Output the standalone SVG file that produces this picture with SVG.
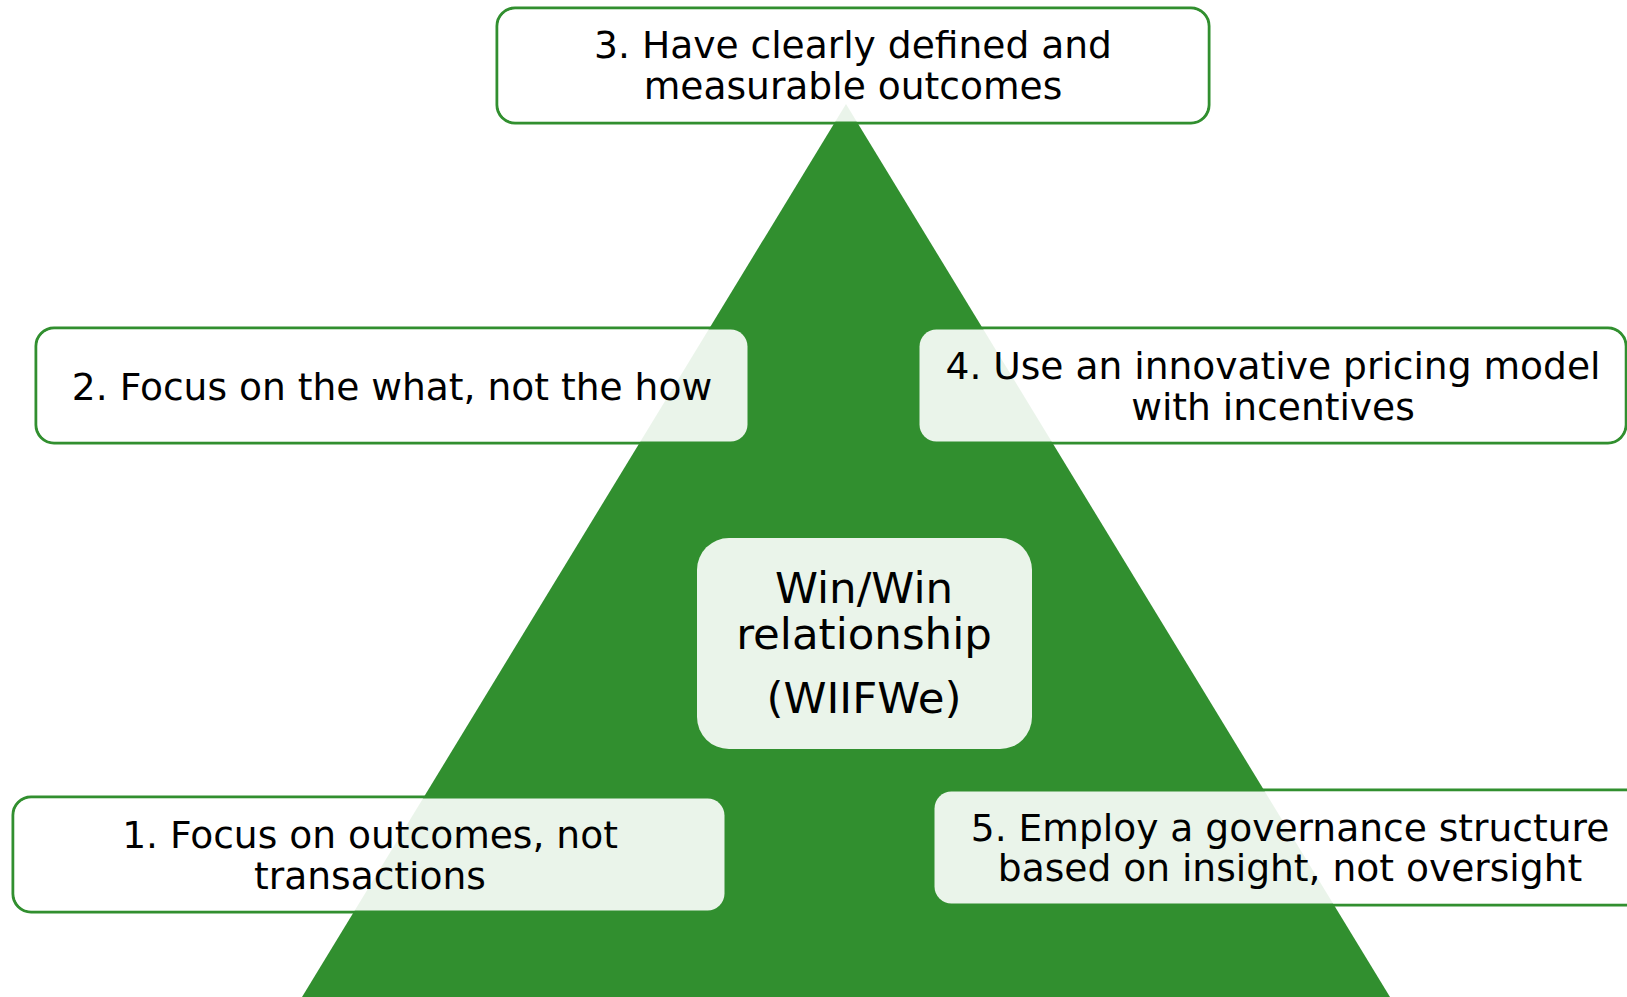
<svg xmlns="http://www.w3.org/2000/svg" width="1627" height="997" viewBox="0 0 1627 997">
<style>
.box{fill:#ffffff;stroke:#318f2f;stroke-width:3}
.veil{fill:#ffffff;fill-opacity:0.9;stroke:none}
.t{font-family:"DejaVu Sans","Liberation Sans",sans-serif;font-size:37.6px;fill:#000;text-anchor:middle}
.c{font-family:"DejaVu Sans","Liberation Sans",sans-serif;font-size:43.5px;fill:#000;text-anchor:middle}
</style>
<rect width="1627" height="997" fill="#ffffff"/>
<g id="frames">
<rect class="box" x="497" y="8" width="712" height="115" rx="18"/>
<rect class="box" x="36" y="328" width="713" height="115" rx="18"/>
<rect class="box" x="918" y="328" width="708" height="115" rx="18"/>
<rect class="box" x="13" y="797" width="713" height="115" rx="18"/>
<rect class="box" x="933" y="790" width="720" height="115" rx="18"/>
</g>
<g id="pyramid">
<polygon points="846,104 1390,997 302,997" fill="#318f2f"/>
</g>
<g id="node3">
<rect class="veil" x="498.5" y="9.5" width="709" height="112" rx="17"/>
<text class="t" x="853" y="58">3. Have clearly defined and</text>
<text class="t" x="853" y="98.5">measurable outcomes</text>
</g>
<g id="node2">
<rect class="veil" x="37.5" y="329.5" width="710" height="112" rx="17"/>
<text class="t" x="392" y="399.5">2. Focus on the what, not the how</text>
</g>
<g id="node4">
<rect class="veil" x="919.5" y="329.5" width="705" height="112" rx="17"/>
<text class="t" x="1273" y="379">4. Use an innovative pricing model</text>
<text class="t" x="1273" y="419.5">with incentives</text>
</g>
<g id="node1">
<rect class="veil" x="14.5" y="798.5" width="710" height="112" rx="17"/>
<text class="t" x="370" y="848">1. Focus on outcomes, not</text>
<text class="t" x="370" y="888.5">transactions</text>
</g>
<g id="node5">
<rect class="veil" x="934.5" y="791.5" width="717" height="112" rx="17"/>
<text class="t" x="1290" y="840.5">5. Employ a governance structure</text>
<text class="t" x="1290" y="881">based on insight, not oversight</text>
</g>
<g id="center">
<rect class="veil" x="697" y="538" width="335" height="211" rx="32"/>
<text class="c" x="864" y="603">Win/Win</text>
<text class="c" x="864" y="649">relationship</text>
<text class="c" x="864" y="713">(WIIFWe)</text>
</g>
<g id="connectors"></g>
</svg>
